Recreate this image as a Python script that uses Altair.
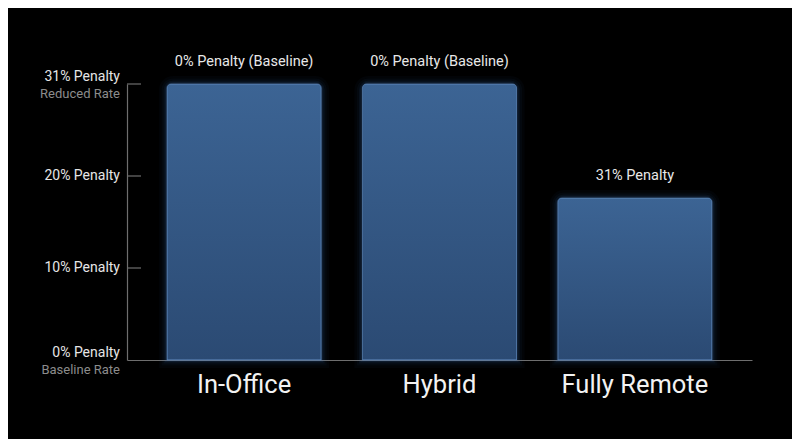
import altair as alt
import pandas as pd

categories = ["In-Office", "Hybrid", "Fully Remote"]
values = [30, 30, 17.6]
bar_labels = ["0% Penalty (Baseline)", "0% Penalty (Baseline)", "31% Penalty"]

tick_values = [0, 10, 20, 30]
tick_labels = ["0% Penalty", "10% Penalty", "20% Penalty", "31% Penalty"]

sub_values = [0, 30]
sub_labels = ["Baseline Rate", "Reduced Rate"]

bars_df = pd.DataFrame({"cat": categories, "v": values, "lab": bar_labels})
ticks_df = pd.DataFrame({"v": tick_values, "lab": tick_labels})
sub_df = pd.DataFrame({"v": sub_values, "lab": sub_labels})

FONT = "Roboto"

xenc = alt.X("cat:N", sort=categories, title=None,
             scale=alt.Scale(paddingInner=0.211, paddingOuter=0.205),
             axis=alt.Axis(labelFontSize=25.5, labelColor="#f2f2f2", labelFont=FONT,
                           ticks=False, tickSize=0, labelPadding=12, labelAngle=0,
                           domainColor="#6e6e6e", domainWidth=1.2, grid=False))
yenc = alt.Y("v:Q", title=None, scale=alt.Scale(domain=[0, 30], nice=False),
             axis=alt.Axis(labels=False, ticks=False, grid=False,
                           domainColor="#6e6e6e", domainWidth=1.2))

base = alt.Chart(bars_df)

glow_layers = []
for w, op in [(16, 0.03), (11, 0.045), (7, 0.065), (4, 0.09)]:
    glow_layers.append(
        base.mark_bar(fillOpacity=0, stroke="#4f86d6", strokeWidth=w, strokeOpacity=op,
                      cornerRadiusTopLeft=6, cornerRadiusTopRight=6)
        .encode(x=xenc, y=yenc)
    )

grad = alt.Gradient(
    gradient="linear",
    stops=[alt.GradientStop(offset=0, color="#3c6494"),
           alt.GradientStop(offset=1, color="#2b4a73")],
    x1=0, x2=0, y1=0, y2=1,
)

bars = base.mark_bar(fill=grad, stroke="#5b84b6", strokeWidth=1, strokeOpacity=0.7,
                     cornerRadiusTopLeft=4, cornerRadiusTopRight=4).encode(x=xenc, y=yenc)

bar_text = base.mark_text(dy=-22, fontSize=14.5, font=FONT, color="#e8e8e8",
                          baseline="middle").encode(x=xenc, y=yenc, text="lab:N")

tick_base = alt.Chart(ticks_df)
tick_rules = tick_base.mark_rule(color="#6e6e6e", strokeWidth=1.2).encode(
    y=alt.Y("v:Q"), x=alt.value(0), x2=alt.value(14)
).transform_filter("datum.v > 0")

ylab_mid = tick_base.mark_text(align="right", baseline="middle", fontSize=14, font=FONT,
                               color="#e6e6e6").encode(
    y=alt.Y("v:Q"), x=alt.value(-7), text="lab:N"
).transform_filter("datum.v > 0 && datum.v < 30")

ylab_end = tick_base.mark_text(align="right", baseline="middle", fontSize=14, font=FONT,
                               color="#e6e6e6", dy=-7.5).encode(
    y=alt.Y("v:Q"), x=alt.value(-7), text="lab:N"
).transform_filter("datum.v == 0 || datum.v == 30")

ysub = alt.Chart(sub_df).mark_text(align="right", baseline="middle", fontSize=13, font=FONT,
                                   color="#8c8c8c", dy=9.5).encode(
    y=alt.Y("v:Q"), x=alt.value(-7), text="lab:N"
)

chart = alt.layer(*glow_layers, bars, bar_text, tick_rules, ylab_mid, ylab_end, ysub).properties(
    width=625, height=276,
    padding={"left": 119, "top": 76, "right": 40, "bottom": 79},
    autosize=alt.AutoSizeParams(type="none"),
    background="#000000",
).configure_view(stroke=None)

chart.save("out.html", embed_options={"renderer": "svg", "actions": False})
